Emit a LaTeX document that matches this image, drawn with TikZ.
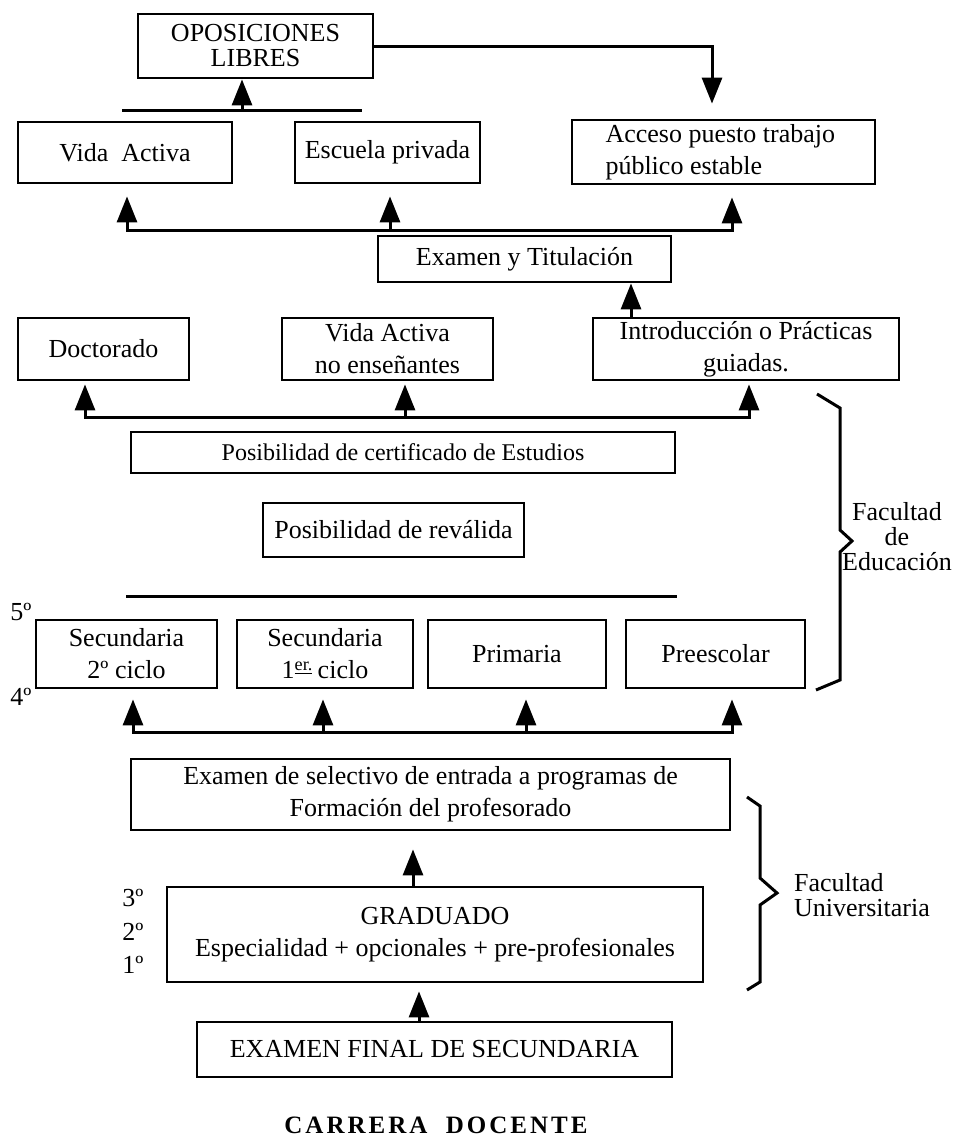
\documentclass[tikz,border=0pt]{standalone}
\usepackage{fontspec}
\setmainfont{Liberation Serif}
\newfontfamily\titlefont[LetterSpace=12]{Liberation Serif}
\usetikzlibrary{arrows.meta}

\begin{document}
\begin{tikzpicture}[x=0.5pt,y=-0.5pt,line width=1.4pt,
  font=\fontsize{13}{16}\selectfont,
  box/.style={draw,rectangle,inner sep=0pt,align=center},
  bus/.style={line width=1.5pt,line cap=rect},
  uparr/.style={-{Triangle[length=13pt,width=10pt]},line width=1.5pt},
  bracket/.style={line width=1.5pt,line join=miter}]
\useasboundingbox (0,0) rectangle (953,1140);
% ---------- top: oposiciones and exits ----------
\node[box,minimum width=117.5pt,minimum height=32pt,font=\fontsize{13}{12.5}\selectfont] (opos) at (255.5,46) {OPOSICIONES\\LIBRES};
\node[box,minimum width=107pt,minimum height=30.5pt] (vida) at (125,152.5) {Vida\ \ Activa};
\node[box,minimum width=92.5pt,minimum height=30.5pt] (escuela) at (387.5,152.5) {Escuela privada};
\node[box,text width=118pt,inner xsep=16.75pt,minimum height=32pt,align=flush left] (acceso) at (723.5,152) {Acceso puesto trabajo\\público estable};
\node[box,minimum width=146.5pt,minimum height=23pt] (exam) at (524.5,259) {Examen y Titulación};
\coordinate (tbL) at (123,110);
\coordinate (tbR) at (360,110);
\coordinate (tbM) at (242,110);
\draw[bus] (tbL) -- (tbR);
\draw[uparr] (tbM) -- (tbM |- opos.south);
\draw[uparr,shorten >=7.5pt] (opos.east) -| ([xshift=-5.75pt]acceso.north);
\foreach \n/\x in {vida/127,escuela/390,acceso/732}{
  \coordinate (r1\n) at (\x,230);
  \draw[uparr,shorten >=6pt] (r1\n) -- (r1\n |- \n.south);
}
\draw[bus] (r1vida) -- (r1acceso);
% ---------- second row ----------
\node[box,minimum width=85.5pt,minimum height=31pt] (doct) at (103.5,349) {Doctorado};
\node[box,minimum width=105.5pt,minimum height=31pt] (vidano) at (387.5,349) {Vida Activa\\no enseñantes};
\node[box,minimum width=153pt,minimum height=31pt] (intro) at (746,349) {Introducción o Prácticas\\guiadas.};
\draw[uparr] ([xshift=-57.5pt]intro.north) -- ([xshift=-57.5pt]intro.north |- exam.south);
\foreach \n/\x in {doct/85,vidano/405,intro/749}{
  \coordinate (r2\n) at (\x,417);
  \draw[uparr,shorten >=1.5pt] (r2\n) -- (r2\n |- \n.south);
}
\draw[bus] (r2doct) -- (r2intro);
\node[box,minimum width=272pt,minimum height=20.5pt,font=\fontsize{12}{14}\selectfont] (cert) at (403,452.5) {Posibilidad de certificado de Estudios};
\node[box,minimum width=130.5pt,minimum height=27pt] (reval) at (393.5,530) {Posibilidad de reválida};
\draw[bus] (127,596) -- (675,596);
% ---------- third row ----------
\node[box,minimum width=90.5pt,minimum height=34pt] (sec2) at (126.5,654) {Secundaria\\2º ciclo};
\node[box,minimum width=88pt,minimum height=34pt] (sec1) at (325,654) {Secundaria\\1\textsuperscript{\underline{er.}}\,ciclo};
\node[box,minimum width=89pt,minimum height=34pt] (prim) at (517,654) {Primaria};
\node[box,minimum width=89.5pt,minimum height=34pt] (pree) at (715.5,654) {Preescolar};
\node (l5) at (21,612) {5º};
\node (l4) at (21,697) {4º};
\foreach \n/\x in {sec2/133,sec1/323,prim/526,pree/732}{
  \coordinate (r3\n) at (\x,732);
  \draw[uparr,shorten >=5pt] (r3\n) -- (r3\n |- \n.south);
}
\draw[bus] (r3sec2) -- (r3pree);
% ---------- bottom ----------
\node[box,minimum width=299.5pt,minimum height=35.5pt] (selec) at (430.5,794.5) {Examen de selectivo de entrada a programas de\\Formación del profesorado};
\node[box,minimum width=268pt,minimum height=47.5pt] (grad) at (435,934.5) {GRADUADO\\Especialidad + opcionales + pre-profesionales};
\node[box,minimum width=237.5pt,minimum height=27.5pt] (final) at (434.5,1049.5) {EXAMEN FINAL DE SECUNDARIA};
\node (l3) at (133,898) {3º};
\node (l2) at (133,932) {2º};
\node (l1) at (133,965) {1º};
\draw[uparr,shorten >=9pt] ([xshift=-11pt]grad.north) -- ([xshift=-11pt]grad.north |- selec.south);
\draw[uparr,shorten >=4pt] ([xshift=-7.75pt]final.north) -- ([xshift=-7.75pt]final.north |- grad.south);
\node[font=\fontsize{12.5}{14}\selectfont] (title) at (436,1125) {\titlefont\bfseries CARRERA\ \ DOCENTE};
% ---------- brackets ----------
\draw[bracket] (817,394) -- (840,408) -- (840,530) -- (852,541) -- (840,552) -- (840,680) -- (816,690);
\node[align=center,font=\fontsize{13}{12.5}\selectfont] (fedu) at (897,537) {Facultad\\de\\Educación};
\draw[bracket] (747,797) -- (760,806) -- (760,878) -- (777,893) -- (760,905) -- (760,982) -- (747,990);
\node[anchor=west,align=left,font=\fontsize{13}{12.5}\selectfont] (funi) at (786,895) {Facultad\\Universitaria};
\end{tikzpicture}
\end{document}
